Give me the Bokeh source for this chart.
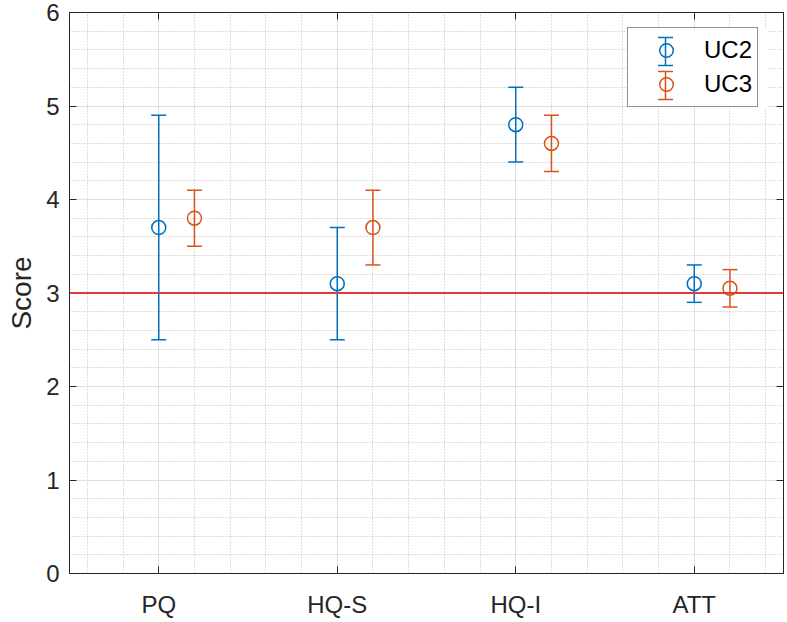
import numpy as np
from bokeh.plotting import figure
from bokeh.models import (ColumnDataSource, Whisker, TeeHead, Range1d, LinearAxis,
                          FixedTicker, Span, Legend, LegendItem, BoxAnnotation)
from bokeh.embed import file_html
from bokeh.resources import INLINE

# ---- data ----
CATEGORIES = ["PQ", "HQ-S", "HQ-I", "ATT"]
SERIES = ["UC2", "UC3"]
UC2_MEAN = [3.7, 3.1, 4.8, 3.1]
UC2_LOWER = [2.5, 2.5, 4.4, 2.9]
UC2_UPPER = [4.9, 3.7, 5.2, 3.3]
UC3_MEAN = [3.8, 3.7, 4.6, 3.05]
UC3_LOWER = [3.5, 3.3, 4.3, 2.85]
UC3_UPPER = [4.1, 4.1, 4.9, 3.25]
Y_TICKS = [0, 1, 2, 3, 4, 5, 6]
THRESHOLD = 3
Y_LABEL = "Score"

# ---- style ----
FONT = "Liberation Sans"
AX = "#262626"
COLORS = ["#0072BD", "#D95319"]
OFFSETS = [0.0, 0.2]
W, H = 786, 620
BL, BR, BT, BB = 69, 3, 12, 46

xpos = np.arange(1, len(CATEGORIES) + 1, dtype=float)
x_minor = [round(v, 2) for v in np.arange(0.6, 4.41, 0.2) if abs(v - round(v)) > 1e-6]
y_minor = [round(v, 2) for v in np.arange(0.2, 5.9, 0.2) if abs(v - round(v)) > 1e-6]
xt = FixedTicker(ticks=list(xpos), minor_ticks=x_minor)
yt = FixedTicker(ticks=Y_TICKS, minor_ticks=y_minor)

p = figure(width=W, height=H, x_range=Range1d(0.5, 4.5), y_range=Range1d(0, 6),
           output_backend="svg", toolbar_location=None,
           min_border_left=BL, min_border_right=BR, min_border_top=BT, min_border_bottom=BB)
p.background_fill_color = "white"
p.border_fill_color = "white"
p.outline_line_color = AX
p.outline_line_width = 1

# axes
xa = p.xaxis[0]
xa.ticker = xt
xa.major_label_overrides = {float(v): c for v, c in zip(xpos, CATEGORIES)}
xa.major_label_standoff = 17
ya = p.yaxis[0]
ya.ticker = yt
ya.major_label_standoff = 10
ya.axis_label = Y_LABEL
ya.axis_label_standoff = 6
ya.axis_label_text_font = FONT
ya.axis_label_text_font_size = "28px"
ya.axis_label_text_font_style = "normal"
ya.axis_label_text_color = AX

ra = LinearAxis(ticker=yt, major_label_overrides={t: "" for t in Y_TICKS})
ta = LinearAxis(ticker=xt, major_label_overrides={float(v): "" for v in xpos})
p.add_layout(ra, "right")
p.add_layout(ta, "above")

for ax in (xa, ya, ra, ta):
    ax.axis_line_color = AX
    ax.major_tick_line_color = AX
    ax.major_tick_in = 7
    ax.major_tick_out = 0
    ax.minor_tick_in = 0
    ax.minor_tick_out = 0
    ax.major_label_text_font = FONT
    ax.major_label_text_font_size = "24px"
    ax.major_label_text_color = AX
for ax in (ra, ta):
    ax.major_label_text_font_size = "1px"
    ax.major_label_standoff = 0

# grids
p.xgrid.ticker = xt
p.ygrid.ticker = yt
for g in (p.xgrid[0], p.ygrid[0]):
    g.grid_line_color = "#dedede"
    g.grid_line_width = 1
    g.minor_grid_line_color = "#bcbcbc"
    g.minor_grid_line_dash = "1 2"
    g.minor_grid_line_width = 1

# error bars + markers
renderers = []
for mean, lo, hi, off, col in ((UC2_MEAN, UC2_LOWER, UC2_UPPER, OFFSETS[0], COLORS[0]),
                               (UC3_MEAN, UC3_LOWER, UC3_UPPER, OFFSETS[1], COLORS[1])):
    src = ColumnDataSource(dict(x=xpos + off, y=mean, lower=lo, upper=hi))
    wk = Whisker(source=src, base="x", lower="lower", upper="upper", dimension="height",
                 line_color=col, line_width=1.5, level="glyph",
                 upper_head=TeeHead(size=15, line_color=col, line_width=1.5),
                 lower_head=TeeHead(size=15, line_color=col, line_width=1.5))
    p.add_layout(wk)
    r = p.scatter("x", "y", source=src, marker="circle", size=14, fill_color=None,
                  line_color=col, line_width=1.5)
    renderers.append(r)

p.add_layout(Span(location=THRESHOLD, dimension="width", line_color="#e23a3a", line_width=2))

# legend geometry (screen units, relative to the frame)
FW, FH = W - BL - BR, H - BT - BB - 2
LW, LH = 140, 78
PAD, GW, GH = 5, 66, 34
LX, LY = FW - 16 - LW, FH - 16 - LH

# white legend background
p.add_layout(BoxAnnotation(left=LX, right=LX + LW, bottom=LY, top=LY + LH,
                           left_units="screen", right_units="screen",
                           bottom_units="screen", top_units="screen",
                           fill_color="white", fill_alpha=1, line_color=None,
                           level="annotation"))

# errorbar part of the legend icons
icon_x = LX + PAD + GW / 2
icon_y = [LY + LH - PAD - GH / 2, LY + PAD + GH / 2]
HALF_BAR, HALF_CAP, LWH = 14, 7.5, 0.75
for i, col in enumerate(COLORS):
    cy = icon_y[i]
    boxes = [(icon_x - LWH, icon_x + LWH, cy - HALF_BAR, cy + HALF_BAR),
             (icon_x - HALF_CAP, icon_x + HALF_CAP, cy + HALF_BAR - LWH, cy + HALF_BAR + LWH),
             (icon_x - HALF_CAP, icon_x + HALF_CAP, cy - HALF_BAR - LWH, cy - HALF_BAR + LWH)]
    for l, rgt, b, t in boxes:
        p.add_layout(BoxAnnotation(left=l, right=rgt, bottom=b, top=t,
                                   left_units="screen", right_units="screen",
                                   bottom_units="screen", top_units="screen",
                                   fill_color=col, fill_alpha=1, line_color=None,
                                   level="annotation"))

legend = Legend(items=[LegendItem(label=s, renderers=[r]) for s, r in zip(SERIES, renderers)],
                location=(LX, LY), padding=PAD, spacing=0, glyph_width=GW, glyph_height=GH,
                label_height=GH, label_width=20, label_standoff=5, margin=0,
                border_line_color=AX, border_line_width=1,
                background_fill_alpha=0,
                label_text_font=FONT, label_text_font_size="24px", label_text_color="black")
p.add_layout(legend)

open("out.html", "w").write(file_html(p, INLINE))
